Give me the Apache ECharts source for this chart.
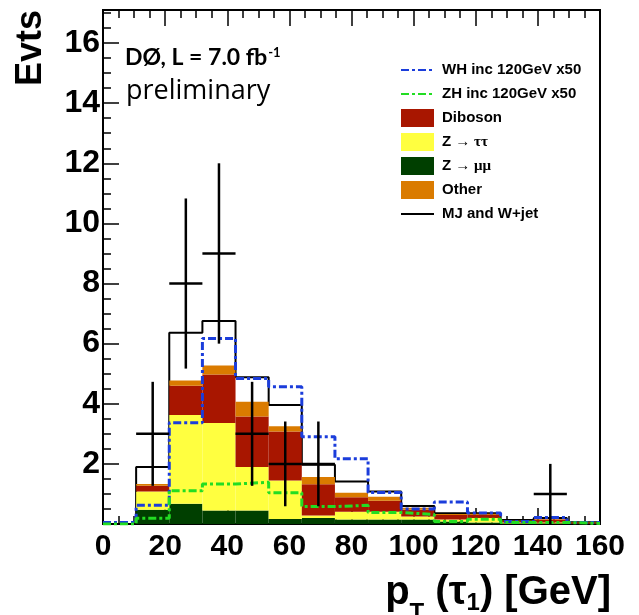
<!DOCTYPE html>
<html>
<head>
<meta charset="utf-8">
<script src="https://cdn.jsdelivr.net/npm/echarts@6/dist/echarts.min.js"></script>
<style>
  html, body { margin: 0; padding: 0; background: #fff; }
  #chart { width: 639px; height: 615px; }
</style>
</head>
<body>
<div id="chart"></div>
<script>
// 15 bins of pT(tau1) between 0 and 160 GeV
const nBins = 15;
const xMin = 0;
const xMax = 160;
const binW = (xMax - xMin) / nBins;

// stacked backgrounds, bottom to top (events per bin)
const zmumu   = [0, 0.47, 0.67, 0.45, 0.45, 0.17, 0.20, 0.15, 0.15, 0.15, 0.08, 0.05, 0.02, 0.02, 0.01];
const ztautau = [0, 0.61, 2.96, 2.91, 1.45, 1.28, 0.08, 0.26, 0.26, 0.10, 0.07, 0.15, 0.03, 0.03, 0.01];
const diboson = [0, 0.19, 0.97, 1.61, 1.68, 1.63, 1.04, 0.48, 0.36, 0.22, 0.15, 0.10, 0.05, 0.10, 0.02];
const other   = [0, 0.06, 0.17, 0.30, 0.49, 0.17, 0.24, 0.15, 0.14, 0.07, 0.03, 0.04, 0.02, 0.02, 0.02];
const mjWjet  = [0, 0.57, 1.59, 1.48, 0.81, 0.71, 0.41, 0.37, 0.17, 0.06, 0.03, 0.02, 0.01, 0.03, 0];

// signals scaled x50 (not stacked)
const whSignal = [0.05, 0.62, 3.37, 6.17, 4.84, 4.57, 2.90, 2.17, 1.05, 0.50, 0.73, 0.37, 0.08, 0.22, 0.05];
const zhSignal = [0, 0.19, 1.11, 1.33, 1.39, 1.04, 0.58, 0.62, 0.38, 0.32, 0.08, 0.16, 0.05, 0.05, 0.02];

// observed data (bin index, count, error)
const dataBins   = [1, 2, 3, 4, 5, 6, 13];
const dataCounts = [3, 8, 9, 3, 2, 2, 1];
const dataErrors = [1.73, 2.83, 3.0, 1.73, 1.41, 1.41, 1.0];

const yTickLabels = [2, 4, 6, 8, 10, 12, 14, 16];

const layers = [zmumu, ztautau, diboson, other];
const colors = {
  diboson: "#a81600",
  ztt: "#ffff40",
  zmm: "#003f00",
  other: "#da7b00",
  wh: "#1b3ddb",
  zh: "#22dd22",
};

function layerSeries(name, color, idx) {
  const data = [];
  for (let i = 0; i < nBins; i++) {
    let base = 0;
    for (let k = 0; k < idx; k++) base += layers[k][i];
    data.push([xMin + i * binW, xMin + (i + 1) * binW, base, base + layers[idx][i]]);
  }
  return {
    type: "custom",
    name,
    z: 2,
    itemStyle: { color },
    encode: { x: [0, 1], y: [2, 3] },
    renderItem(params, api) {
      const p0 = api.coord([api.value(0), api.value(2)]);
      const p1 = api.coord([api.value(1), api.value(3)]);
      return {
        type: "rect",
        shape: { x: p0[0], y: p1[1], width: p1[0] - p0[0], height: p0[1] - p1[1] },
        style: { fill: color },
      };
    },
    data,
  };
}

function stepData(vals) {
  const d = vals.map((v, i) => [xMin + i * binW, v]);
  d.push([xMax, vals[nBins - 1]]);
  return d;
}

// total stack height for the MJ and W+jet outline
const totals = mjWjet.map((v, i) => v + zmumu[i] + ztautau[i] + diboson[i] + other[i]);

const dataPoints = dataBins.map((b, i) => [
  xMin + (b + 0.5) * binW,
  dataCounts[i],
  dataErrors[i],
]);

const chart = echarts.init(document.getElementById("chart"));

const boldFont = "Liberation Sans";
const hideSymbol = { opacity: 0 };

const option = {
  animation: false,
  grid: {
    left: 103,
    right: 39,
    top: 10,
    bottom: 91,
    show: true,
    borderColor: "#000",
    borderWidth: 2,
    backgroundColor: "#fff",
  },
  xAxis: [
    {
      type: "value",
      min: xMin,
      max: xMax,
      interval: 20,
      axisLine: { lineStyle: { color: "#000", width: 2 } },
      axisTick: { inside: true, length: 16, lineStyle: { color: "#000", width: 1.5 } },
      minorTick: { show: true, splitNumber: 4, length: 8, lineStyle: { color: "#000", width: 1.5 } },
      splitLine: { show: false },
      axisLabel: {
        color: "#000",
        fontSize: 30,
        fontWeight: "bold",
        fontFamily: boldFont,
        margin: 8,
      },
    },
    {
      type: "value",
      position: "top",
      min: xMin,
      max: xMax,
      interval: 20,
      axisLine: { show: true, lineStyle: { color: "#000", width: 2 } },
      axisTick: { inside: true, length: 16, lineStyle: { color: "#000", width: 1.5 } },
      minorTick: { show: true, splitNumber: 4, length: 8, lineStyle: { color: "#000", width: 1.5 } },
      splitLine: { show: false },
      axisLabel: { show: false },
    },
  ],
  yAxis: {
    type: "value",
    min: 0,
    max: 17.1,
    interval: 2,
    axisLine: { show: true, lineStyle: { color: "#000", width: 2 } },
    axisTick: { inside: true, length: 16, lineStyle: { color: "#000", width: 1.5 } },
    minorTick: { show: true, splitNumber: 4, length: 8, lineStyle: { color: "#000", width: 1.5 } },
    splitLine: { show: false },
    axisLabel: {
      color: "#000",
      fontSize: 32,
      fontWeight: "bold",
      fontFamily: boldFont,
      margin: 3,
      formatter: (v) => (yTickLabels.includes(v) ? String(v) : ""),
    },
  },
  legend: {
    orient: "vertical",
    left: 400,
    top: 61,
    padding: 0,
    itemWidth: 33,
    itemHeight: 18,
    itemGap: 6,
    selectedMode: false,
    textStyle: {
      fontSize: 15,
      fontWeight: "bold",
      fontFamily: boldFont,
      color: "#000",
      lineHeight: 18,
      padding: [0, 0, 0, 3],
      rich: {
        b: { fontSize: 15, fontWeight: "bold", fontFamily: boldFont, color: "#000", lineHeight: 18 },
        s: { fontSize: 15, fontFamily: "Liberation Serif", color: "#000", lineHeight: 18 },
      },
    },
    formatter(name) {
      if (name.startsWith("Z \u2192")) return "{b|Z} {s|" + name.slice(2) + "}";
      return name;
    },
    data: [
      { name: "WH inc 120GeV x50", itemStyle: hideSymbol },
      { name: "ZH inc 120GeV x50", itemStyle: hideSymbol },
      { name: "Diboson", icon: "rect" },
      { name: "Z \u2192 \u03c4\u03c4", icon: "rect" },
      { name: "Z \u2192 \u03bc\u03bc", icon: "rect" },
      { name: "Other", icon: "rect" },
      { name: "MJ and W+jet", itemStyle: hideSymbol },
    ],
  },
  graphic: [
    {
      type: "text",
      x: 31,
      y: 48,
      rotation: Math.PI / 2,
      style: {
        text: "Evts",
        fontSize: 36,
        fontWeight: "bold",
        fontFamily: boldFont,
        fill: "#000",
        align: "center",
        verticalAlign: "middle",
      },
    },
    {
      type: "text",
      x: 125,
      y: 46,
      style: {
        text: "{a|D\u00d8, L = 7.0 fb}{sup|-1}",
        rich: {
          a: { fontSize: 23, fontWeight: "bold", fontFamily: "Lato", fill: "#000", verticalAlign: "top", lineHeight: 24 },
          sup: { fontSize: 13, fontWeight: "bold", fontFamily: "Lato", fill: "#000", verticalAlign: "top", lineHeight: 16, padding: [0, 0, 0, 1] },
        },
        fill: "#000",
      },
    },
    {
      type: "text",
      x: 126,
      y: 78,
      style: {
        text: "preliminary",
        fontSize: 27,
        fontFamily: "Open Sans",
        fill: "#000",
      },
    },
    {
      type: "text",
      x: 611,
      y: 573,
      style: {
        text: "{m|p}{subT|T}{m| (\u03c4}{sub1|1}{m|) [GeV]}",
        align: "right",
        rich: {
          m: { fontSize: 40, fontWeight: "bold", fontFamily: boldFont, fill: "#000", verticalAlign: "top", lineHeight: 40 },
          subT: { fontSize: 24, fontWeight: "bold", fontFamily: boldFont, fill: "#000", verticalAlign: "top", lineHeight: 24, padding: [28, 0, 0, 0] },
          sub1: { fontSize: 24, fontWeight: "bold", fontFamily: boldFont, fill: "#000", verticalAlign: "top", lineHeight: 24, padding: [18, 0, 0, 0] },
        },
      },
    },
  ],
  series: [
    {
      type: "line",
      name: "MJ and W+jet",
      step: "end",
      z: 1,
      symbol: "none",
      color: "#000",
      lineStyle: { color: "#000", width: 2 },
      data: stepData(totals),
    },
    layerSeries("Z \u2192 \u03bc\u03bc", colors.zmm, 0),
    layerSeries("Z \u2192 \u03c4\u03c4", colors.ztt, 1),
    layerSeries("Diboson", colors.diboson, 2),
    layerSeries("Other", colors.other, 3),
    {
      type: "line",
      name: "WH inc 120GeV x50",
      step: "end",
      z: 3,
      symbol: "none",
      color: colors.wh,
      lineStyle: { color: colors.wh, width: 3, type: [8, 3, 3, 3] },
      data: stepData(whSignal),
    },
    {
      type: "line",
      name: "ZH inc 120GeV x50",
      step: "end",
      z: 3,
      symbol: "none",
      color: colors.zh,
      lineStyle: { color: colors.zh, width: 3, type: [8, 3, 3, 3] },
      data: stepData(zhSignal),
    },
    {
      type: "custom",
      name: "Data",
      z: 4,
      encode: { x: 0, y: 1 },
      renderItem(params, api) {
        const x = api.value(0);
        const y = api.value(1);
        const e = api.value(2);
        const c = api.coord([x, y]);
        const left = api.coord([x - binW / 2, y]);
        const right = api.coord([x + binW / 2, y]);
        const top = api.coord([x, y + e]);
        const bot = api.coord([x, Math.max(0, y - e)]);
        const st = { stroke: "#000", lineWidth: 2.5 };
        return {
          type: "group",
          children: [
            { type: "line", shape: { x1: left[0], y1: c[1], x2: right[0], y2: c[1] }, style: st },
            { type: "line", shape: { x1: c[0], y1: top[1], x2: c[0], y2: bot[1] }, style: st },
          ],
        };
      },
      data: dataPoints,
    },
  ],
};

chart.setOption(option);
</script>
</body>
</html>
